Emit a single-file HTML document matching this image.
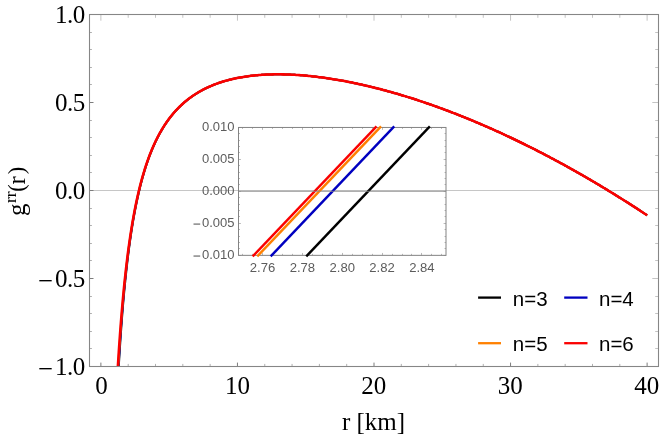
<!DOCTYPE html><html><head><meta charset="utf-8"><title>plot</title><style>html,body{margin:0;padding:0;background:#fff}svg{display:block;will-change:transform}text{font-family:"Liberation Serif",serif;fill:#000}.s{font-family:"Liberation Sans",sans-serif}</style></head><body>
<svg width="664" height="437" viewBox="0 0 664 437">
<rect width="664" height="437" fill="#fff"/>
<line x1="89.5" y1="190.5" x2="658.5" y2="190.5" stroke="#c6c6c6" stroke-width="1"/>
<path d="M100.88,366.5v-3.9M237.44,366.5v-3.9M374.00,366.5v-3.9M510.56,366.5v-3.9M647.12,366.5v-3.9M89.5,366.50h4M89.5,278.50h4M89.5,190.50h4M89.5,102.50h4M89.5,14.50h4" stroke="#7c7c7c" stroke-width="1" fill="none"/>
<path d="M128.19,366.5v-2.6M155.50,366.5v-2.6M182.82,366.5v-2.6M210.13,366.5v-2.6M264.75,366.5v-2.6M292.06,366.5v-2.6M319.38,366.5v-2.6M346.69,366.5v-2.6M401.31,366.5v-2.6M428.62,366.5v-2.6M455.94,366.5v-2.6M483.25,366.5v-2.6M537.87,366.5v-2.6M565.18,366.5v-2.6M592.50,366.5v-2.6M619.81,366.5v-2.6M89.5,348.50h2.4M89.5,331.50h2.4M89.5,313.50h2.4M89.5,296.50h2.4M89.5,260.50h2.4M89.5,243.50h2.4M89.5,225.50h2.4M89.5,208.50h2.4M89.5,172.50h2.4M89.5,155.50h2.4M89.5,137.50h2.4M89.5,120.50h2.4M89.5,84.50h2.4M89.5,67.50h2.4M89.5,49.50h2.4M89.5,32.50h2.4" stroke="#b0b0b0" stroke-width="1" fill="none"/>
<path d="M100.88,14.5v6.2M128.19,14.5v3.3M155.50,14.5v3.3M182.82,14.5v3.3M210.13,14.5v3.3M237.44,14.5v6.2M264.75,14.5v3.3M292.06,14.5v3.3M319.38,14.5v3.3M346.69,14.5v3.3M374.00,14.5v6.2M401.31,14.5v3.3M428.62,14.5v3.3M455.94,14.5v3.3M483.25,14.5v3.3M510.56,14.5v6.2M537.87,14.5v3.3M565.18,14.5v3.3M592.50,14.5v3.3M619.81,14.5v3.3M647.12,14.5v6.2M658.5,366.50h-6.2M658.5,348.50h-3.3M658.5,331.50h-3.3M658.5,313.50h-3.3M658.5,296.50h-3.3M658.5,278.50h-6.2M658.5,260.50h-3.3M658.5,243.50h-3.3M658.5,225.50h-3.3M658.5,208.50h-3.3M658.5,190.50h-6.2M658.5,172.50h-3.3M658.5,155.50h-3.3M658.5,137.50h-3.3M658.5,120.50h-3.3M658.5,102.50h-6.2M658.5,84.50h-3.3M658.5,67.50h-3.3M658.5,49.50h-3.3M658.5,32.50h-3.3M658.5,14.50h-6.2" stroke="#c4c4c4" stroke-width="1" fill="none"/>
<path d="M118.79,366.50 L119.06,361.80 L119.36,356.76 L119.66,351.87 L119.96,347.12 L120.26,342.51 L120.56,338.03 L120.86,333.68 L121.16,329.44 L121.46,325.32 L121.76,321.31 L122.06,317.40 L122.36,313.60 L122.65,309.89 L122.95,306.28 L123.25,302.76 L123.55,299.32 L123.85,295.96 L124.15,292.69 L124.45,289.49 L124.75,286.37 L125.05,283.32 L125.35,280.34 L125.65,277.43 L125.95,274.58 L126.25,271.79 L126.55,269.07 L126.85,266.40 L127.14,263.79 L127.44,261.23 L127.74,258.73 L128.04,256.28 L128.34,253.88 L128.64,251.53 L128.94,249.22 L129.24,246.96 L129.54,244.75 L129.84,242.57 L130.14,240.44 L130.44,238.35 L130.74,236.30 L131.04,234.29 L131.33,232.31 L131.63,230.37 L131.93,228.47 L132.23,226.60 L132.53,224.76 L132.83,222.95 L133.13,221.18 L133.43,219.44 L133.73,217.73 L134.03,216.04 L134.33,214.39 L134.63,212.76 L134.93,211.16 L135.23,209.59 L135.53,208.04 L135.82,206.52 L136.12,205.02 L136.42,203.54 L136.72,202.09 L137.02,200.67 L137.32,199.26 L137.62,197.88 L137.92,196.51 L138.22,195.17 L138.52,193.85 L138.82,192.55 L139.12,191.27 L139.42,190.01 L139.72,188.76 L140.01,187.54 L140.31,186.33 L140.61,185.14 L140.91,183.96 L141.21,182.81 L141.51,181.67 L141.81,180.54 L142.11,179.43 L142.41,178.34 L142.71,177.26 L143.01,176.20 L143.31,175.15 L143.61,174.11 L143.91,173.09 L144.21,172.08 L144.50,171.09 L144.80,170.11 L145.10,169.14 L145.40,168.19 L145.70,167.24 L146.00,166.31 L146.30,165.39 L146.60,164.49 L146.90,163.59 L147.20,162.71 L147.50,161.83 L147.80,160.97 L148.10,160.12 L148.40,159.28 L148.69,158.45 L148.99,157.63 L149.29,156.82 L149.59,156.02 L149.89,155.22 L150.19,154.44 L150.49,153.67 L150.79,152.91 L151.09,152.15 L151.39,151.41 L151.69,150.67 L151.99,149.94 L152.29,149.22 L152.59,148.51 L152.89,147.81 L153.18,147.11 L153.48,146.42 L153.78,145.74 L154.08,145.07 L154.38,144.40 L154.68,143.75 L154.98,143.10 L155.28,142.45 L155.58,141.82 L155.88,141.19 L156.18,140.57 L156.48,139.95 L156.78,139.34 L157.08,138.74 L157.37,138.14 L157.67,137.55 L157.97,136.97 L158.27,136.39 L158.57,135.82 L158.87,135.26 L159.17,134.70 L159.47,134.14 L159.77,133.59 L160.07,133.05 L160.37,132.51 L160.67,131.98 L160.97,131.46 L161.27,130.94 L161.57,130.42 L161.86,129.91 L162.16,129.41 L162.46,128.91 L162.76,128.41 L163.06,127.92 L163.36,127.44 L163.66,126.95 L163.96,126.48 L164.26,126.01 L164.56,125.54 L164.86,125.08 L165.16,124.62 L165.46,124.17 L165.76,123.72 L166.05,123.27 L166.35,122.83 L166.65,122.40 L166.95,121.96 L167.25,121.54 L167.55,121.11 L167.85,120.69 L168.15,120.28 L168.45,119.86 L168.75,119.46 L169.05,119.05 L169.35,118.65 L169.65,118.25 L169.95,117.86 L170.24,117.47 L170.54,117.08 L170.84,116.70 L171.14,116.32 L171.44,115.94 L171.74,115.57 L172.04,115.20 L172.34,114.83 L172.64,114.47 L172.94,114.11 L173.24,113.76 L173.54,113.40 L173.84,113.05 L174.14,112.71 L174.44,112.36 L174.73,112.02 L175.03,111.68 L175.33,111.35 L175.63,111.02 L175.93,110.69 L176.23,110.36 L176.53,110.04 L176.83,109.72 L177.13,109.40 L177.43,109.08 L177.73,108.77 L178.03,108.46 L178.33,108.15 L178.63,107.85 L178.92,107.55 L179.22,107.25 L179.52,106.95 L179.82,106.66 L180.12,106.36 L180.42,106.07 L180.72,105.79 L181.02,105.50 L181.32,105.22 L181.62,104.94 L181.92,104.66 L182.22,104.39 L182.52,104.11 L182.82,103.84 L184.37,102.47 L185.92,101.16 L187.47,99.90 L189.03,98.70 L190.58,97.54 L192.13,96.43 L193.69,95.36 L195.24,94.34 L196.79,93.36 L198.34,92.42 L199.90,91.51 L201.45,90.65 L203.00,89.81 L204.56,89.01 L206.11,88.24 L207.66,87.50 L209.21,86.79 L210.77,86.11 L212.32,85.46 L213.87,84.83 L215.43,84.23 L216.98,83.65 L218.53,83.10 L220.08,82.57 L221.64,82.06 L223.19,81.57 L224.74,81.11 L226.30,80.66 L227.85,80.23 L229.40,79.83 L230.95,79.44 L232.51,79.07 L234.06,78.71 L235.61,78.38 L237.17,78.06 L238.72,77.75 L240.27,77.46 L241.82,77.19 L243.38,76.93 L244.93,76.68 L246.48,76.45 L248.04,76.24 L249.59,76.03 L251.14,75.84 L252.69,75.66 L254.25,75.50 L255.80,75.34 L257.35,75.20 L258.91,75.07 L260.46,74.95 L262.01,74.85 L263.56,74.75 L265.12,74.66 L266.67,74.59 L268.22,74.52 L269.78,74.47 L271.33,74.42 L272.88,74.39 L274.43,74.36 L275.99,74.34 L277.54,74.34 L279.09,74.34 L280.65,74.35 L282.20,74.37 L283.75,74.40 L285.30,74.43 L286.86,74.48 L288.41,74.53 L289.96,74.59 L291.52,74.66 L293.07,74.74 L294.62,74.82 L296.17,74.92 L297.73,75.02 L299.28,75.12 L300.83,75.24 L302.39,75.36 L303.94,75.49 L305.49,75.62 L307.04,75.77 L308.60,75.92 L310.15,76.07 L311.70,76.24 L313.26,76.41 L314.81,76.58 L316.36,76.76 L317.91,76.95 L319.47,77.15 L321.02,77.35 L322.57,77.56 L324.13,77.77 L325.68,77.99 L327.23,78.22 L328.78,78.45 L330.34,78.69 L331.89,78.93 L333.44,79.18 L335.00,79.43 L336.55,79.69 L338.10,79.96 L339.65,80.23 L341.21,80.51 L342.76,80.79 L344.31,81.08 L345.87,81.37 L347.42,81.67 L348.97,81.98 L350.52,82.29 L352.08,82.60 L353.63,82.92 L355.18,83.24 L356.74,83.57 L358.29,83.91 L359.84,84.25 L361.39,84.59 L362.95,84.94 L364.50,85.30 L366.05,85.66 L367.61,86.02 L369.16,86.39 L370.71,86.77 L372.26,87.14 L373.82,87.53 L375.37,87.92 L376.92,88.31 L378.48,88.71 L380.03,89.11 L381.58,89.51 L383.13,89.93 L384.69,90.34 L386.24,90.76 L387.79,91.19 L389.35,91.62 L390.90,92.05 L392.45,92.49 L394.00,92.93 L395.56,93.38 L397.11,93.83 L398.66,94.28 L400.22,94.74 L401.77,95.21 L403.32,95.67 L404.87,96.15 L406.43,96.62 L407.98,97.11 L409.53,97.59 L411.09,98.08 L412.64,98.57 L414.19,99.07 L415.74,99.57 L417.30,100.08 L418.85,100.59 L420.40,101.10 L421.96,101.62 L423.51,102.14 L425.06,102.67 L426.61,103.20 L428.17,103.74 L429.72,104.27 L431.27,104.82 L432.83,105.36 L434.38,105.91 L435.93,106.47 L437.48,107.03 L439.04,107.59 L440.59,108.15 L442.14,108.72 L443.70,109.30 L445.25,109.88 L446.80,110.46 L448.35,111.04 L449.91,111.63 L451.46,112.23 L453.01,112.82 L454.57,113.42 L456.12,114.03 L457.67,114.64 L459.22,115.25 L460.78,115.86 L462.33,116.48 L463.88,117.11 L465.44,117.73 L466.99,118.37 L468.54,119.00 L470.09,119.64 L471.65,120.28 L473.20,120.93 L474.75,121.58 L476.31,122.23 L477.86,122.89 L479.41,123.55 L480.96,124.21 L482.52,124.88 L484.07,125.55 L485.62,126.22 L487.18,126.90 L488.73,127.59 L490.28,128.27 L491.83,128.96 L493.39,129.65 L494.94,130.35 L496.49,131.05 L498.05,131.76 L499.60,132.46 L501.15,133.17 L502.70,133.89 L504.26,134.61 L505.81,135.33 L507.36,136.05 L508.92,136.78 L510.47,137.52 L512.02,138.25 L513.57,138.99 L515.13,139.73 L516.68,140.48 L518.23,141.23 L519.79,141.98 L521.34,142.74 L522.89,143.50 L524.44,144.26 L526.00,145.03 L527.55,145.80 L529.10,146.58 L530.66,147.36 L532.21,148.14 L533.76,148.92 L535.31,149.71 L536.87,150.50 L538.42,151.30 L539.97,152.09 L541.53,152.90 L543.08,153.70 L544.63,154.51 L546.18,155.32 L547.74,156.14 L549.29,156.96 L550.84,157.78 L552.40,158.61 L553.95,159.44 L555.50,160.27 L557.05,161.10 L558.61,161.94 L560.16,162.79 L561.71,163.63 L563.27,164.48 L564.82,165.34 L566.37,166.19 L567.92,167.05 L569.48,167.92 L571.03,168.78 L572.58,169.65 L574.14,170.53 L575.69,171.40 L577.24,172.28 L578.79,173.17 L580.35,174.05 L581.90,174.94 L583.45,175.84 L585.01,176.73 L586.56,177.63 L588.11,178.54 L589.66,179.44 L591.22,180.35 L592.77,181.27 L594.32,182.18 L595.88,183.10 L597.43,184.03 L598.98,184.95 L600.53,185.88 L602.09,186.82 L603.64,187.75 L605.19,188.69 L606.75,189.63 L608.30,190.58 L609.85,191.53 L611.40,192.48 L612.96,193.44 L614.51,194.40 L616.06,195.36 L617.62,196.33 L619.17,197.30 L620.72,198.27 L622.27,199.25 L623.83,200.23 L625.38,201.21 L626.93,202.19 L628.49,203.18 L630.04,204.18 L631.59,205.17 L633.14,206.17 L634.70,207.17 L636.25,208.18 L637.80,209.19 L639.36,210.20 L640.91,211.21 L642.46,212.23 L644.01,213.25 L645.57,214.28 L647.12,215.31" stroke="#000" stroke-width="2.0" fill="none" stroke-linejoin="round"/>
<path d="M118.54,366.50 L118.76,362.53 L119.06,357.39 L119.36,352.41 L119.66,347.59 L119.96,342.91 L120.26,338.37 L120.56,333.97 L120.86,329.69 L121.16,325.54 L121.46,321.49 L121.76,317.56 L122.06,313.74 L122.36,310.02 L122.65,306.39 L122.95,302.85 L123.25,299.41 L123.55,296.05 L123.85,292.77 L124.15,289.57 L124.45,286.44 L124.75,283.39 L125.05,280.41 L125.35,277.50 L125.65,274.66 L125.95,271.87 L126.25,269.15 L126.55,266.49 L126.85,263.88 L127.14,261.33 L127.44,258.83 L127.74,256.38 L128.04,253.99 L128.34,251.64 L128.64,249.34 L128.94,247.09 L129.24,244.88 L129.54,242.71 L129.84,240.58 L130.14,238.50 L130.44,236.45 L130.74,234.44 L131.04,232.47 L131.33,230.53 L131.63,228.63 L131.93,226.77 L132.23,224.93 L132.53,223.13 L132.83,221.36 L133.13,219.63 L133.43,217.92 L133.73,216.24 L134.03,214.59 L134.33,212.96 L134.63,211.37 L134.93,209.79 L135.23,208.25 L135.53,206.73 L135.82,205.23 L136.12,203.76 L136.42,202.31 L136.72,200.89 L137.02,199.49 L137.32,198.10 L137.62,196.74 L137.92,195.40 L138.22,194.08 L138.52,192.78 L138.82,191.50 L139.12,190.24 L139.42,189.00 L139.72,187.77 L140.01,186.57 L140.31,185.38 L140.61,184.21 L140.91,183.05 L141.21,181.91 L141.51,180.79 L141.81,179.68 L142.11,178.58 L142.41,177.51 L142.71,176.44 L143.01,175.39 L143.31,174.36 L143.61,173.34 L143.91,172.33 L144.21,171.34 L144.50,170.36 L144.80,169.39 L145.10,168.43 L145.40,167.49 L145.70,166.56 L146.00,165.64 L146.30,164.73 L146.60,163.84 L146.90,162.95 L147.20,162.08 L147.50,161.22 L147.80,160.37 L148.10,159.52 L148.40,158.69 L148.69,157.87 L148.99,157.06 L149.29,156.26 L149.59,155.47 L149.89,154.69 L150.19,153.91 L150.49,153.15 L150.79,152.39 L151.09,151.65 L151.39,150.91 L151.69,150.18 L151.99,149.46 L152.29,148.75 L152.59,148.04 L152.89,147.35 L153.18,146.66 L153.48,145.98 L153.78,145.30 L154.08,144.64 L154.38,143.98 L154.68,143.33 L154.98,142.68 L155.28,142.05 L155.58,141.42 L155.88,140.79 L156.18,140.18 L156.48,139.57 L156.78,138.96 L157.08,138.37 L157.37,137.77 L157.67,137.19 L157.97,136.61 L158.27,136.04 L158.57,135.47 L158.87,134.91 L159.17,134.36 L159.47,133.81 L159.77,133.27 L160.07,132.73 L160.37,132.19 L160.67,131.67 L160.97,131.15 L161.27,130.63 L161.57,130.12 L161.86,129.61 L162.16,129.11 L162.46,128.61 L162.76,128.12 L163.06,127.64 L163.36,127.16 L163.66,126.68 L163.96,126.21 L164.26,125.74 L164.56,125.28 L164.86,124.82 L165.16,124.36 L165.46,123.91 L165.76,123.47 L166.05,123.02 L166.35,122.59 L166.65,122.15 L166.95,121.72 L167.25,121.30 L167.55,120.88 L167.85,120.46 L168.15,120.05 L168.45,119.64 L168.75,119.23 L169.05,118.83 L169.35,118.43 L169.65,118.04 L169.95,117.65 L170.24,117.26 L170.54,116.87 L170.84,116.49 L171.14,116.12 L171.44,115.74 L171.74,115.37 L172.04,115.01 L172.34,114.64 L172.64,114.28 L172.94,113.92 L173.24,113.57 L173.54,113.22 L173.84,112.87 L174.14,112.53 L174.44,112.18 L174.73,111.85 L175.03,111.51 L175.33,111.18 L175.63,110.85 L175.93,110.52 L176.23,110.19 L176.53,109.87 L176.83,109.55 L177.13,109.24 L177.43,108.92 L177.73,108.61 L178.03,108.30 L178.33,108.00 L178.63,107.70 L178.92,107.40 L179.22,107.10 L179.52,106.80 L179.82,106.51 L180.12,106.22 L180.42,105.93 L180.72,105.65 L181.02,105.36 L181.32,105.08 L181.62,104.80 L181.92,104.53 L182.22,104.25 L182.52,103.98 L182.82,103.71 L184.37,102.35 L185.92,101.04 L187.47,99.79 L189.03,98.59 L190.58,97.44 L192.13,96.33 L193.69,95.27 L195.24,94.25 L196.79,93.28 L198.34,92.34 L199.90,91.44 L201.45,90.57 L203.00,89.74 L204.56,88.94 L206.11,88.18 L207.66,87.44 L209.21,86.73 L210.77,86.06 L212.32,85.40 L213.87,84.78 L215.43,84.18 L216.98,83.60 L218.53,83.05 L220.08,82.52 L221.64,82.02 L223.19,81.53 L224.74,81.07 L226.30,80.62 L227.85,80.20 L229.40,79.79 L230.95,79.40 L232.51,79.03 L234.06,78.68 L235.61,78.34 L237.17,78.02 L238.72,77.72 L240.27,77.43 L241.82,77.16 L243.38,76.90 L244.93,76.66 L246.48,76.43 L248.04,76.21 L249.59,76.01 L251.14,75.82 L252.69,75.64 L254.25,75.47 L255.80,75.32 L257.35,75.18 L258.91,75.05 L260.46,74.93 L262.01,74.83 L263.56,74.73 L265.12,74.65 L266.67,74.57 L268.22,74.51 L269.78,74.45 L271.33,74.41 L272.88,74.37 L274.43,74.35 L275.99,74.33 L277.54,74.32 L279.09,74.33 L280.65,74.34 L282.20,74.36 L283.75,74.38 L285.30,74.42 L286.86,74.47 L288.41,74.52 L289.96,74.58 L291.52,74.65 L293.07,74.73 L294.62,74.81 L296.17,74.91 L297.73,75.01 L299.28,75.11 L300.83,75.23 L302.39,75.35 L303.94,75.48 L305.49,75.61 L307.04,75.76 L308.60,75.91 L310.15,76.06 L311.70,76.23 L313.26,76.40 L314.81,76.57 L316.36,76.76 L317.91,76.95 L319.47,77.14 L321.02,77.34 L322.57,77.55 L324.13,77.76 L325.68,77.98 L327.23,78.21 L328.78,78.44 L330.34,78.68 L331.89,78.92 L333.44,79.17 L335.00,79.43 L336.55,79.69 L338.10,79.95 L339.65,80.23 L341.21,80.50 L342.76,80.79 L344.31,81.07 L345.87,81.37 L347.42,81.67 L348.97,81.97 L350.52,82.28 L352.08,82.60 L353.63,82.91 L355.18,83.24 L356.74,83.57 L358.29,83.90 L359.84,84.24 L361.39,84.59 L362.95,84.94 L364.50,85.29 L366.05,85.65 L367.61,86.02 L369.16,86.39 L370.71,86.76 L372.26,87.14 L373.82,87.52 L375.37,87.91 L376.92,88.30 L378.48,88.70 L380.03,89.10 L381.58,89.51 L383.13,89.92 L384.69,90.34 L386.24,90.76 L387.79,91.18 L389.35,91.61 L390.90,92.05 L392.45,92.48 L394.00,92.93 L395.56,93.37 L397.11,93.82 L398.66,94.28 L400.22,94.74 L401.77,95.20 L403.32,95.67 L404.87,96.14 L406.43,96.62 L407.98,97.10 L409.53,97.59 L411.09,98.08 L412.64,98.57 L414.19,99.07 L415.74,99.57 L417.30,100.08 L418.85,100.59 L420.40,101.10 L421.96,101.62 L423.51,102.14 L425.06,102.67 L426.61,103.20 L428.17,103.73 L429.72,104.27 L431.27,104.81 L432.83,105.36 L434.38,105.91 L435.93,106.47 L437.48,107.02 L439.04,107.59 L440.59,108.15 L442.14,108.72 L443.70,109.30 L445.25,109.87 L446.80,110.46 L448.35,111.04 L449.91,111.63 L451.46,112.22 L453.01,112.82 L454.57,113.42 L456.12,114.03 L457.67,114.63 L459.22,115.25 L460.78,115.86 L462.33,116.48 L463.88,117.11 L465.44,117.73 L466.99,118.36 L468.54,119.00 L470.09,119.64 L471.65,120.28 L473.20,120.92 L474.75,121.57 L476.31,122.23 L477.86,122.88 L479.41,123.54 L480.96,124.21 L482.52,124.88 L484.07,125.55 L485.62,126.22 L487.18,126.90 L488.73,127.58 L490.28,128.27 L491.83,128.96 L493.39,129.65 L494.94,130.35 L496.49,131.05 L498.05,131.75 L499.60,132.46 L501.15,133.17 L502.70,133.89 L504.26,134.61 L505.81,135.33 L507.36,136.05 L508.92,136.78 L510.47,137.51 L512.02,138.25 L513.57,138.99 L515.13,139.73 L516.68,140.48 L518.23,141.23 L519.79,141.98 L521.34,142.74 L522.89,143.50 L524.44,144.26 L526.00,145.03 L527.55,145.80 L529.10,146.58 L530.66,147.35 L532.21,148.14 L533.76,148.92 L535.31,149.71 L536.87,150.50 L538.42,151.30 L539.97,152.09 L541.53,152.90 L543.08,153.70 L544.63,154.51 L546.18,155.32 L547.74,156.14 L549.29,156.96 L550.84,157.78 L552.40,158.61 L553.95,159.44 L555.50,160.27 L557.05,161.10 L558.61,161.94 L560.16,162.79 L561.71,163.63 L563.27,164.48 L564.82,165.34 L566.37,166.19 L567.92,167.05 L569.48,167.91 L571.03,168.78 L572.58,169.65 L574.14,170.52 L575.69,171.40 L577.24,172.28 L578.79,173.16 L580.35,174.05 L581.90,174.94 L583.45,175.83 L585.01,176.73 L586.56,177.63 L588.11,178.53 L589.66,179.44 L591.22,180.35 L592.77,181.26 L594.32,182.18 L595.88,183.10 L597.43,184.02 L598.98,184.95 L600.53,185.88 L602.09,186.81 L603.64,187.75 L605.19,188.69 L606.75,189.63 L608.30,190.58 L609.85,191.53 L611.40,192.48 L612.96,193.44 L614.51,194.40 L616.06,195.36 L617.62,196.33 L619.17,197.30 L620.72,198.27 L622.27,199.25 L623.83,200.23 L625.38,201.21 L626.93,202.19 L628.49,203.18 L630.04,204.18 L631.59,205.17 L633.14,206.17 L634.70,207.17 L636.25,208.18 L637.80,209.19 L639.36,210.20 L640.91,211.21 L642.46,212.23 L644.01,213.25 L645.57,214.28 L647.12,215.31" stroke="#0000c0" stroke-width="2.0" fill="none" stroke-linejoin="round"/>
<path d="M118.24,366.50 L118.46,362.50 L118.76,357.44 L119.06,352.55 L119.36,347.80 L119.66,343.19 L119.96,338.72 L120.26,334.38 L120.56,330.16 L120.86,326.06 L121.16,322.07 L121.46,318.19 L121.76,314.41 L122.06,310.73 L122.36,307.14 L122.65,303.64 L122.95,300.22 L123.25,296.89 L123.55,293.64 L123.85,290.46 L124.15,287.36 L124.45,284.33 L124.75,281.37 L125.05,278.47 L125.35,275.64 L125.65,272.87 L125.95,270.15 L126.25,267.50 L126.55,264.90 L126.85,262.36 L127.14,259.87 L127.44,257.42 L127.74,255.03 L128.04,252.69 L128.34,250.39 L128.64,248.14 L128.94,245.92 L129.24,243.76 L129.54,241.63 L129.84,239.54 L130.14,237.49 L130.44,235.48 L130.74,233.51 L131.04,231.57 L131.33,229.66 L131.63,227.79 L131.93,225.96 L132.23,224.15 L132.53,222.38 L132.83,220.63 L133.13,218.92 L133.43,217.23 L133.73,215.58 L134.03,213.95 L134.33,212.34 L134.63,210.76 L134.93,209.21 L135.23,207.69 L135.53,206.18 L135.82,204.71 L136.12,203.25 L136.42,201.82 L136.72,200.41 L137.02,199.02 L137.32,197.65 L137.62,196.30 L137.92,194.98 L138.22,193.67 L138.52,192.38 L138.82,191.11 L139.12,189.86 L139.42,188.63 L139.72,187.42 L140.01,186.22 L140.31,185.04 L140.61,183.87 L140.91,182.73 L141.21,181.60 L141.51,180.48 L141.81,179.38 L142.11,178.30 L142.41,177.23 L142.71,176.17 L143.01,175.13 L143.31,174.10 L143.61,173.09 L143.91,172.09 L144.21,171.10 L144.50,170.12 L144.80,169.16 L145.10,168.21 L145.40,167.28 L145.70,166.35 L146.00,165.44 L146.30,164.53 L146.60,163.64 L146.90,162.76 L147.20,161.89 L147.50,161.04 L147.80,160.19 L148.10,159.35 L148.40,158.52 L148.69,157.71 L148.99,156.90 L149.29,156.10 L149.59,155.31 L149.89,154.53 L150.19,153.76 L150.49,153.00 L150.79,152.25 L151.09,151.51 L151.39,150.77 L151.69,150.05 L151.99,149.33 L152.29,148.62 L152.59,147.92 L152.89,147.22 L153.18,146.54 L153.48,145.86 L153.78,145.19 L154.08,144.53 L154.38,143.87 L154.68,143.22 L154.98,142.58 L155.28,141.94 L155.58,141.32 L155.88,140.69 L156.18,140.08 L156.48,139.47 L156.78,138.87 L157.08,138.28 L157.37,137.69 L157.67,137.10 L157.97,136.53 L158.27,135.96 L158.57,135.39 L158.87,134.83 L159.17,134.28 L159.47,133.73 L159.77,133.19 L160.07,132.65 L160.37,132.12 L160.67,131.60 L160.97,131.08 L161.27,130.56 L161.57,130.05 L161.86,129.55 L162.16,129.05 L162.46,128.55 L162.76,128.06 L163.06,127.58 L163.36,127.10 L163.66,126.62 L163.96,126.15 L164.26,125.68 L164.56,125.22 L164.86,124.76 L165.16,124.31 L165.46,123.86 L165.76,123.41 L166.05,122.97 L166.35,122.54 L166.65,122.10 L166.95,121.68 L167.25,121.25 L167.55,120.83 L167.85,120.42 L168.15,120.00 L168.45,119.59 L168.75,119.19 L169.05,118.79 L169.35,118.39 L169.65,118.00 L169.95,117.61 L170.24,117.22 L170.54,116.84 L170.84,116.46 L171.14,116.08 L171.44,115.71 L171.74,115.34 L172.04,114.97 L172.34,114.61 L172.64,114.25 L172.94,113.89 L173.24,113.54 L173.54,113.19 L173.84,112.84 L174.14,112.49 L174.44,112.15 L174.73,111.81 L175.03,111.48 L175.33,111.15 L175.63,110.82 L175.93,110.49 L176.23,110.16 L176.53,109.84 L176.83,109.53 L177.13,109.21 L177.43,108.90 L177.73,108.59 L178.03,108.28 L178.33,107.97 L178.63,107.67 L178.92,107.37 L179.22,107.07 L179.52,106.78 L179.82,106.49 L180.12,106.19 L180.42,105.91 L180.72,105.62 L181.02,105.34 L181.32,105.06 L181.62,104.78 L181.92,104.50 L182.22,104.23 L182.52,103.96 L182.82,103.69 L184.37,102.33 L185.92,101.02 L187.47,99.77 L189.03,98.57 L190.58,97.42 L192.13,96.32 L193.69,95.26 L195.24,94.24 L196.79,93.27 L198.34,92.33 L199.90,91.43 L201.45,90.56 L203.00,89.73 L204.56,88.93 L206.11,88.17 L207.66,87.43 L209.21,86.73 L210.77,86.05 L212.32,85.40 L213.87,84.77 L215.43,84.17 L216.98,83.60 L218.53,83.05 L220.08,82.52 L221.64,82.01 L223.19,81.53 L224.74,81.06 L226.30,80.62 L227.85,80.19 L229.40,79.79 L230.95,79.40 L232.51,79.03 L234.06,78.68 L235.61,78.34 L237.17,78.02 L238.72,77.72 L240.27,77.43 L241.82,77.16 L243.38,76.90 L244.93,76.66 L246.48,76.42 L248.04,76.21 L249.59,76.01 L251.14,75.82 L252.69,75.64 L254.25,75.47 L255.80,75.32 L257.35,75.18 L258.91,75.05 L260.46,74.93 L262.01,74.82 L263.56,74.73 L265.12,74.64 L266.67,74.57 L268.22,74.50 L269.78,74.45 L271.33,74.41 L272.88,74.37 L274.43,74.35 L275.99,74.33 L277.54,74.32 L279.09,74.32 L280.65,74.34 L282.20,74.36 L283.75,74.38 L285.30,74.42 L286.86,74.47 L288.41,74.52 L289.96,74.58 L291.52,74.65 L293.07,74.73 L294.62,74.81 L296.17,74.90 L297.73,75.01 L299.28,75.11 L300.83,75.23 L302.39,75.35 L303.94,75.48 L305.49,75.61 L307.04,75.76 L308.60,75.91 L310.15,76.06 L311.70,76.23 L313.26,76.40 L314.81,76.57 L316.36,76.76 L317.91,76.94 L319.47,77.14 L321.02,77.34 L322.57,77.55 L324.13,77.76 L325.68,77.98 L327.23,78.21 L328.78,78.44 L330.34,78.68 L331.89,78.92 L333.44,79.17 L335.00,79.43 L336.55,79.69 L338.10,79.95 L339.65,80.23 L341.21,80.50 L342.76,80.79 L344.31,81.07 L345.87,81.37 L347.42,81.67 L348.97,81.97 L350.52,82.28 L352.08,82.59 L353.63,82.91 L355.18,83.24 L356.74,83.57 L358.29,83.90 L359.84,84.24 L361.39,84.59 L362.95,84.94 L364.50,85.29 L366.05,85.65 L367.61,86.02 L369.16,86.39 L370.71,86.76 L372.26,87.14 L373.82,87.52 L375.37,87.91 L376.92,88.30 L378.48,88.70 L380.03,89.10 L381.58,89.51 L383.13,89.92 L384.69,90.34 L386.24,90.76 L387.79,91.18 L389.35,91.61 L390.90,92.05 L392.45,92.48 L394.00,92.93 L395.56,93.37 L397.11,93.82 L398.66,94.28 L400.22,94.74 L401.77,95.20 L403.32,95.67 L404.87,96.14 L406.43,96.62 L407.98,97.10 L409.53,97.59 L411.09,98.08 L412.64,98.57 L414.19,99.07 L415.74,99.57 L417.30,100.08 L418.85,100.59 L420.40,101.10 L421.96,101.62 L423.51,102.14 L425.06,102.67 L426.61,103.20 L428.17,103.73 L429.72,104.27 L431.27,104.81 L432.83,105.36 L434.38,105.91 L435.93,106.47 L437.48,107.02 L439.04,107.59 L440.59,108.15 L442.14,108.72 L443.70,109.30 L445.25,109.87 L446.80,110.46 L448.35,111.04 L449.91,111.63 L451.46,112.22 L453.01,112.82 L454.57,113.42 L456.12,114.03 L457.67,114.63 L459.22,115.25 L460.78,115.86 L462.33,116.48 L463.88,117.11 L465.44,117.73 L466.99,118.36 L468.54,119.00 L470.09,119.64 L471.65,120.28 L473.20,120.92 L474.75,121.57 L476.31,122.23 L477.86,122.88 L479.41,123.54 L480.96,124.21 L482.52,124.88 L484.07,125.55 L485.62,126.22 L487.18,126.90 L488.73,127.58 L490.28,128.27 L491.83,128.96 L493.39,129.65 L494.94,130.35 L496.49,131.05 L498.05,131.75 L499.60,132.46 L501.15,133.17 L502.70,133.89 L504.26,134.61 L505.81,135.33 L507.36,136.05 L508.92,136.78 L510.47,137.51 L512.02,138.25 L513.57,138.99 L515.13,139.73 L516.68,140.48 L518.23,141.23 L519.79,141.98 L521.34,142.74 L522.89,143.50 L524.44,144.26 L526.00,145.03 L527.55,145.80 L529.10,146.58 L530.66,147.35 L532.21,148.14 L533.76,148.92 L535.31,149.71 L536.87,150.50 L538.42,151.30 L539.97,152.09 L541.53,152.90 L543.08,153.70 L544.63,154.51 L546.18,155.32 L547.74,156.14 L549.29,156.96 L550.84,157.78 L552.40,158.61 L553.95,159.44 L555.50,160.27 L557.05,161.10 L558.61,161.94 L560.16,162.79 L561.71,163.63 L563.27,164.48 L564.82,165.34 L566.37,166.19 L567.92,167.05 L569.48,167.91 L571.03,168.78 L572.58,169.65 L574.14,170.52 L575.69,171.40 L577.24,172.28 L578.79,173.16 L580.35,174.05 L581.90,174.94 L583.45,175.83 L585.01,176.73 L586.56,177.63 L588.11,178.53 L589.66,179.44 L591.22,180.35 L592.77,181.26 L594.32,182.18 L595.88,183.10 L597.43,184.02 L598.98,184.95 L600.53,185.88 L602.09,186.81 L603.64,187.75 L605.19,188.69 L606.75,189.63 L608.30,190.58 L609.85,191.53 L611.40,192.48 L612.96,193.44 L614.51,194.40 L616.06,195.36 L617.62,196.33 L619.17,197.30 L620.72,198.27 L622.27,199.25 L623.83,200.23 L625.38,201.21 L626.93,202.19 L628.49,203.18 L630.04,204.18 L631.59,205.17 L633.14,206.17 L634.70,207.17 L636.25,208.18 L637.80,209.19 L639.36,210.20 L640.91,211.21 L642.46,212.23 L644.01,213.25 L645.57,214.28 L647.12,215.31" stroke="#ff8000" stroke-width="2.0" fill="none" stroke-linejoin="round"/>
<path d="M117.85,366.50 L117.87,366.19 L118.17,361.36 L118.46,356.66 L118.76,352.07 L119.06,347.60 L119.36,343.24 L119.66,338.98 L119.96,334.84 L120.26,330.79 L120.56,326.83 L120.86,322.97 L121.16,319.21 L121.46,315.53 L121.76,311.93 L122.06,308.42 L122.36,304.98 L122.65,301.63 L122.95,298.34 L123.25,295.14 L123.55,292.00 L123.85,288.92 L124.15,285.92 L124.45,282.98 L124.75,280.10 L125.05,277.28 L125.35,274.52 L125.65,271.81 L125.95,269.16 L126.25,266.56 L126.55,264.02 L126.85,261.53 L127.14,259.08 L127.44,256.68 L127.74,254.33 L128.04,252.02 L128.34,249.76 L128.64,247.54 L128.94,245.36 L129.24,243.22 L129.54,241.12 L129.84,239.06 L130.14,237.03 L130.44,235.05 L130.74,233.09 L131.04,231.17 L131.33,229.29 L131.63,227.44 L131.93,225.62 L132.23,223.83 L132.53,222.07 L132.83,220.34 L133.13,218.64 L133.43,216.96 L133.73,215.32 L134.03,213.70 L134.33,212.11 L134.63,210.54 L134.93,209.00 L135.23,207.48 L135.53,205.99 L135.82,204.52 L136.12,203.07 L136.42,201.64 L136.72,200.24 L137.02,198.86 L137.32,197.50 L137.62,196.16 L137.92,194.83 L138.22,193.53 L138.52,192.25 L138.82,190.99 L139.12,189.74 L139.42,188.51 L139.72,187.30 L140.01,186.11 L140.31,184.94 L140.61,183.78 L140.91,182.63 L141.21,181.50 L141.51,180.39 L141.81,179.30 L142.11,178.21 L142.41,177.15 L142.71,176.09 L143.01,175.06 L143.31,174.03 L143.61,173.02 L143.91,172.02 L144.21,171.04 L144.50,170.06 L144.80,169.10 L145.10,168.16 L145.40,167.22 L145.70,166.30 L146.00,165.38 L146.30,164.48 L146.60,163.59 L146.90,162.72 L147.20,161.85 L147.50,160.99 L147.80,160.15 L148.10,159.31 L148.40,158.48 L148.69,157.67 L148.99,156.86 L149.29,156.06 L149.59,155.28 L149.89,154.50 L150.19,153.73 L150.49,152.97 L150.79,152.22 L151.09,151.48 L151.39,150.74 L151.69,150.02 L151.99,149.30 L152.29,148.59 L152.59,147.89 L152.89,147.20 L153.18,146.51 L153.48,145.84 L153.78,145.17 L154.08,144.50 L154.38,143.85 L154.68,143.20 L154.98,142.56 L155.28,141.92 L155.58,141.30 L155.88,140.68 L156.18,140.06 L156.48,139.45 L156.78,138.85 L157.08,138.26 L157.37,137.67 L157.67,137.09 L157.97,136.51 L158.27,135.94 L158.57,135.38 L158.87,134.82 L159.17,134.26 L159.47,133.72 L159.77,133.18 L160.07,132.64 L160.37,132.11 L160.67,131.58 L160.97,131.06 L161.27,130.55 L161.57,130.04 L161.86,129.53 L162.16,129.04 L162.46,128.54 L162.76,128.05 L163.06,127.57 L163.36,127.09 L163.66,126.61 L163.96,126.14 L164.26,125.67 L164.56,125.21 L164.86,124.75 L165.16,124.30 L165.46,123.85 L165.76,123.41 L166.05,122.97 L166.35,122.53 L166.65,122.10 L166.95,121.67 L167.25,121.24 L167.55,120.82 L167.85,120.41 L168.15,120.00 L168.45,119.59 L168.75,119.18 L169.05,118.78 L169.35,118.38 L169.65,117.99 L169.95,117.60 L170.24,117.21 L170.54,116.83 L170.84,116.45 L171.14,116.07 L171.44,115.70 L171.74,115.33 L172.04,114.96 L172.34,114.60 L172.64,114.24 L172.94,113.88 L173.24,113.53 L173.54,113.18 L173.84,112.83 L174.14,112.49 L174.44,112.15 L174.73,111.81 L175.03,111.47 L175.33,111.14 L175.63,110.81 L175.93,110.48 L176.23,110.16 L176.53,109.84 L176.83,109.52 L177.13,109.21 L177.43,108.89 L177.73,108.58 L178.03,108.27 L178.33,107.97 L178.63,107.67 L178.92,107.37 L179.22,107.07 L179.52,106.77 L179.82,106.48 L180.12,106.19 L180.42,105.90 L180.72,105.62 L181.02,105.34 L181.32,105.06 L181.62,104.78 L181.92,104.50 L182.22,104.23 L182.52,103.96 L182.82,103.69 L184.37,102.33 L185.92,101.02 L187.47,99.77 L189.03,98.57 L190.58,97.42 L192.13,96.32 L193.69,95.26 L195.24,94.24 L196.79,93.26 L198.34,92.33 L199.90,91.43 L201.45,90.56 L203.00,89.73 L204.56,88.93 L206.11,88.17 L207.66,87.43 L209.21,86.73 L210.77,86.05 L212.32,85.40 L213.87,84.77 L215.43,84.17 L216.98,83.60 L218.53,83.05 L220.08,82.52 L221.64,82.01 L223.19,81.53 L224.74,81.06 L226.30,80.62 L227.85,80.19 L229.40,79.79 L230.95,79.40 L232.51,79.03 L234.06,78.68 L235.61,78.34 L237.17,78.02 L238.72,77.72 L240.27,77.43 L241.82,77.16 L243.38,76.90 L244.93,76.65 L246.48,76.42 L248.04,76.21 L249.59,76.01 L251.14,75.82 L252.69,75.64 L254.25,75.47 L255.80,75.32 L257.35,75.18 L258.91,75.05 L260.46,74.93 L262.01,74.82 L263.56,74.73 L265.12,74.64 L266.67,74.57 L268.22,74.50 L269.78,74.45 L271.33,74.41 L272.88,74.37 L274.43,74.35 L275.99,74.33 L277.54,74.32 L279.09,74.32 L280.65,74.34 L282.20,74.36 L283.75,74.38 L285.30,74.42 L286.86,74.47 L288.41,74.52 L289.96,74.58 L291.52,74.65 L293.07,74.73 L294.62,74.81 L296.17,74.90 L297.73,75.00 L299.28,75.11 L300.83,75.23 L302.39,75.35 L303.94,75.48 L305.49,75.61 L307.04,75.76 L308.60,75.91 L310.15,76.06 L311.70,76.23 L313.26,76.40 L314.81,76.57 L316.36,76.76 L317.91,76.94 L319.47,77.14 L321.02,77.34 L322.57,77.55 L324.13,77.76 L325.68,77.98 L327.23,78.21 L328.78,78.44 L330.34,78.68 L331.89,78.92 L333.44,79.17 L335.00,79.43 L336.55,79.69 L338.10,79.95 L339.65,80.23 L341.21,80.50 L342.76,80.79 L344.31,81.07 L345.87,81.37 L347.42,81.67 L348.97,81.97 L350.52,82.28 L352.08,82.59 L353.63,82.91 L355.18,83.24 L356.74,83.57 L358.29,83.90 L359.84,84.24 L361.39,84.59 L362.95,84.94 L364.50,85.29 L366.05,85.65 L367.61,86.02 L369.16,86.39 L370.71,86.76 L372.26,87.14 L373.82,87.52 L375.37,87.91 L376.92,88.30 L378.48,88.70 L380.03,89.10 L381.58,89.51 L383.13,89.92 L384.69,90.34 L386.24,90.76 L387.79,91.18 L389.35,91.61 L390.90,92.05 L392.45,92.48 L394.00,92.93 L395.56,93.37 L397.11,93.82 L398.66,94.28 L400.22,94.74 L401.77,95.20 L403.32,95.67 L404.87,96.14 L406.43,96.62 L407.98,97.10 L409.53,97.59 L411.09,98.08 L412.64,98.57 L414.19,99.07 L415.74,99.57 L417.30,100.08 L418.85,100.59 L420.40,101.10 L421.96,101.62 L423.51,102.14 L425.06,102.67 L426.61,103.20 L428.17,103.73 L429.72,104.27 L431.27,104.81 L432.83,105.36 L434.38,105.91 L435.93,106.47 L437.48,107.02 L439.04,107.59 L440.59,108.15 L442.14,108.72 L443.70,109.30 L445.25,109.87 L446.80,110.46 L448.35,111.04 L449.91,111.63 L451.46,112.22 L453.01,112.82 L454.57,113.42 L456.12,114.03 L457.67,114.63 L459.22,115.25 L460.78,115.86 L462.33,116.48 L463.88,117.11 L465.44,117.73 L466.99,118.36 L468.54,119.00 L470.09,119.64 L471.65,120.28 L473.20,120.92 L474.75,121.57 L476.31,122.23 L477.86,122.88 L479.41,123.54 L480.96,124.21 L482.52,124.88 L484.07,125.55 L485.62,126.22 L487.18,126.90 L488.73,127.58 L490.28,128.27 L491.83,128.96 L493.39,129.65 L494.94,130.35 L496.49,131.05 L498.05,131.75 L499.60,132.46 L501.15,133.17 L502.70,133.89 L504.26,134.61 L505.81,135.33 L507.36,136.05 L508.92,136.78 L510.47,137.51 L512.02,138.25 L513.57,138.99 L515.13,139.73 L516.68,140.48 L518.23,141.23 L519.79,141.98 L521.34,142.74 L522.89,143.50 L524.44,144.26 L526.00,145.03 L527.55,145.80 L529.10,146.58 L530.66,147.35 L532.21,148.14 L533.76,148.92 L535.31,149.71 L536.87,150.50 L538.42,151.30 L539.97,152.09 L541.53,152.90 L543.08,153.70 L544.63,154.51 L546.18,155.32 L547.74,156.14 L549.29,156.96 L550.84,157.78 L552.40,158.61 L553.95,159.44 L555.50,160.27 L557.05,161.10 L558.61,161.94 L560.16,162.79 L561.71,163.63 L563.27,164.48 L564.82,165.34 L566.37,166.19 L567.92,167.05 L569.48,167.91 L571.03,168.78 L572.58,169.65 L574.14,170.52 L575.69,171.40 L577.24,172.28 L578.79,173.16 L580.35,174.05 L581.90,174.94 L583.45,175.83 L585.01,176.73 L586.56,177.63 L588.11,178.53 L589.66,179.44 L591.22,180.35 L592.77,181.26 L594.32,182.18 L595.88,183.10 L597.43,184.02 L598.98,184.95 L600.53,185.88 L602.09,186.81 L603.64,187.75 L605.19,188.69 L606.75,189.63 L608.30,190.58 L609.85,191.53 L611.40,192.48 L612.96,193.44 L614.51,194.40 L616.06,195.36 L617.62,196.33 L619.17,197.30 L620.72,198.27 L622.27,199.25 L623.83,200.23 L625.38,201.21 L626.93,202.19 L628.49,203.18 L630.04,204.18 L631.59,205.17 L633.14,206.17 L634.70,207.17 L636.25,208.18 L637.80,209.19 L639.36,210.20 L640.91,211.21 L642.46,212.23 L644.01,213.25 L645.57,214.28 L647.12,215.31" stroke="#fa0000" stroke-width="2.55" fill="none" stroke-linejoin="round"/>
<rect x="89.5" y="14.5" width="569" height="352" fill="none" stroke="#868686" stroke-width="1.08"/>
<path d="M242.50,255.35v-1.5M242.50,127.45v1.5M252.50,255.35v-1.5M252.50,127.45v1.5M262.50,255.35v-2.4M262.50,127.45v2.4M272.50,255.35v-1.5M272.50,127.45v1.5M282.50,255.35v-1.5M282.50,127.45v1.5M292.50,255.35v-1.5M292.50,127.45v1.5M302.50,255.35v-2.4M302.50,127.45v2.4M312.50,255.35v-1.5M312.50,127.45v1.5M322.50,255.35v-1.5M322.50,127.45v1.5M332.50,255.35v-1.5M332.50,127.45v1.5M342.50,255.35v-2.4M342.50,127.45v2.4M352.50,255.35v-1.5M352.50,127.45v1.5M362.50,255.35v-1.5M362.50,127.45v1.5M372.50,255.35v-1.5M372.50,127.45v1.5M382.50,255.35v-2.4M382.50,127.45v2.4M392.50,255.35v-1.5M392.50,127.45v1.5M402.50,255.35v-1.5M402.50,127.45v1.5M411.50,255.35v-1.5M411.50,127.45v1.5M421.50,255.35v-2.4M421.50,127.45v2.4M431.50,255.35v-1.5M431.50,127.45v1.5M441.50,255.35v-1.5M441.50,127.45v1.5M238.5,255.50h2.4M446.0,255.50h-2.4M238.5,248.50h1.5M446.0,248.50h-1.5M238.5,242.50h1.5M446.0,242.50h-1.5M238.5,236.50h1.5M446.0,236.50h-1.5M238.5,229.50h1.5M446.0,229.50h-1.5M238.5,223.50h2.4M446.0,223.50h-2.4M238.5,216.50h1.5M446.0,216.50h-1.5M238.5,210.50h1.5M446.0,210.50h-1.5M238.5,204.50h1.5M446.0,204.50h-1.5M238.5,197.50h1.5M446.0,197.50h-1.5M238.5,191.50h2.4M446.0,191.50h-2.4M238.5,184.50h1.5M446.0,184.50h-1.5M238.5,178.50h1.5M446.0,178.50h-1.5M238.5,172.50h1.5M446.0,172.50h-1.5M238.5,165.50h1.5M446.0,165.50h-1.5M238.5,159.50h2.4M446.0,159.50h-2.4M238.5,152.50h1.5M446.0,152.50h-1.5M238.5,146.50h1.5M446.0,146.50h-1.5M238.5,140.50h1.5M446.0,140.50h-1.5M238.5,133.50h1.5M446.0,133.50h-1.5M238.5,127.50h2.4M446.0,127.50h-2.4" stroke="#a8a8a8" stroke-width="0.8" fill="none"/>
<rect x="238.5" y="127.45" width="207.50" height="127.90" fill="none" stroke="#838383" stroke-width="1"/>
<line x1="306.26" y1="256.45" x2="429.84" y2="126.35" stroke="#000" stroke-width="2.4"/>
<line x1="270.66" y1="256.45" x2="394.24" y2="126.35" stroke="#0000c0" stroke-width="2.4"/>
<line x1="257.25" y1="256.45" x2="381.05" y2="126.35" stroke="#ff8000" stroke-width="2.4"/>
<line x1="252.65" y1="256.45" x2="376.55" y2="126.35" stroke="#fa0000" stroke-width="2.4"/>
<line x1="238.5" y1="191.3" x2="446.0" y2="191.3" stroke="#8a8a8a" stroke-opacity="0.85" stroke-width="1"/>
<text class="s" x="234.5" y="131.45" font-size="13" style="fill:#5c5c5c" text-anchor="end">0.010</text>
<text class="s" x="234.5" y="163.43" font-size="13" style="fill:#5c5c5c" text-anchor="end">0.005</text>
<text class="s" x="234.5" y="195.40" font-size="13" style="fill:#5c5c5c" text-anchor="end">0.000</text>
<text class="s" x="234.5" y="227.38" font-size="13" style="fill:#5c5c5c" text-anchor="end">0.005</text>
<line x1="193.5" x2="200.2" y1="224.08" y2="224.08" stroke="#5c5c5c" stroke-width="1.1"/>
<text class="s" x="234.5" y="259.35" font-size="13" style="fill:#5c5c5c" text-anchor="end">0.010</text>
<line x1="193.5" x2="200.2" y1="256.05" y2="256.05" stroke="#5c5c5c" stroke-width="1.1"/>
<text class="s" x="262.56" y="271.85" font-size="13.1" style="fill:#5c5c5c" text-anchor="middle">2.76</text>
<text class="s" x="302.40" y="271.85" font-size="13.1" style="fill:#5c5c5c" text-anchor="middle">2.78</text>
<text class="s" x="342.24" y="271.85" font-size="13.1" style="fill:#5c5c5c" text-anchor="middle">2.80</text>
<text class="s" x="382.08" y="271.85" font-size="13.1" style="fill:#5c5c5c" text-anchor="middle">2.82</text>
<text class="s" x="421.92" y="271.85" font-size="13.1" style="fill:#5c5c5c" text-anchor="middle">2.84</text>
<text x="84.7" y="22.90" font-size="25" text-anchor="end" letter-spacing="-0.55">1.0</text>
<text x="84.7" y="110.90" font-size="25" text-anchor="end" letter-spacing="-0.55">0.5</text>
<text x="84.7" y="198.90" font-size="25" text-anchor="end" letter-spacing="-0.55">0.0</text>
<text x="84.7" y="286.90" font-size="25" text-anchor="end" letter-spacing="-0.55">0.5</text>
<line x1="39.3" x2="51.7" y1="280.70" y2="280.70" stroke="#000" stroke-width="1.35"/>
<text x="84.7" y="374.90" font-size="25" text-anchor="end" letter-spacing="-0.55">1.0</text>
<line x1="39.3" x2="51.7" y1="368.70" y2="368.70" stroke="#000" stroke-width="1.35"/>
<text x="101.58" y="393.5" font-size="25" text-anchor="middle">0</text>
<text x="237.54" y="393.5" font-size="25" text-anchor="middle">10</text>
<text x="373.70" y="393.5" font-size="25" text-anchor="middle">20</text>
<text x="510.26" y="393.5" font-size="25" text-anchor="middle">30</text>
<text x="646.82" y="393.5" font-size="25" text-anchor="middle">40</text>
<text x="373.5" y="429.8" font-size="25" text-anchor="middle">r [km]</text>
<text transform="translate(25.0,216.0) rotate(-90)" font-size="25"><tspan x="0">g</tspan><tspan x="13.0" dy="-9.3" font-size="17.5">rr</tspan><tspan x="24.3" dy="8.5" font-size="22.4">(</tspan><tspan x="31.6" dy="0.8">r</tspan><tspan x="41.8" dy="-0.8" font-size="22.4">)</tspan></text>
<line x1="478.1" y1="297.6" x2="501.0" y2="297.6" stroke="#000" stroke-width="2.3"/>
<text class="s" x="512.8" y="306.2" font-size="20.5">n=3</text>
<line x1="564.2" y1="297.6" x2="587.5" y2="297.6" stroke="#0000c0" stroke-width="2.3"/>
<text class="s" x="599.0" y="306.2" font-size="20.5">n=4</text>
<line x1="478.1" y1="343.2" x2="501.0" y2="343.2" stroke="#ff8000" stroke-width="2.3"/>
<text class="s" x="512.8" y="351.2" font-size="20.5">n=5</text>
<line x1="564.2" y1="343.2" x2="587.5" y2="343.2" stroke="#fa0000" stroke-width="2.3"/>
<text class="s" x="599.0" y="351.2" font-size="20.5">n=6</text>
</svg></body></html>
